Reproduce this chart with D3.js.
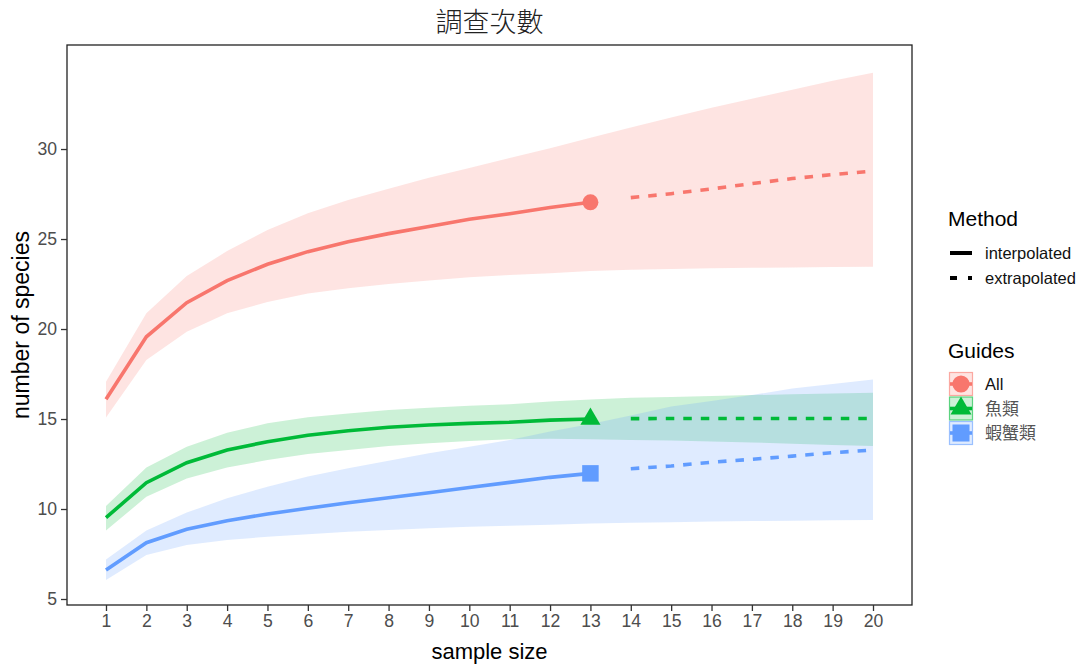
<!DOCTYPE html>
<html lang="zh-Hant">
<head>
<meta charset="UTF-8">
<title>調查次數</title>
<script src="https://d3js.org/d3.v7.min.js"></script>
<style>
  body { margin: 0; background: #fff; }
  svg text { font-family: "Liberation Sans", Arial, sans-serif; }
  .cjk { font-family: "Noto Sans CJK TC", "Noto Sans CJK SC", sans-serif; }
</style>
</head>
<body>
<svg id="chart" width="1088" height="666"></svg>
<script>
// sample sizes (1..13 interpolated, 14..20 extrapolated)
const sizes = [1, 2, 3, 4, 5, 6, 7, 8, 9, 10, 11, 12, 13, 14, 15, 16, 17, 18, 19, 20];
const observedSize = 13;

const guides = ["All", "魚類", "蝦蟹類"];
const colors = ["#F8766D", "#00BA38", "#619CFF"];
const shapes = ["circle", "triangle", "square"];

// All
const allEst = [16.1, 19.57, 21.46, 22.69, 23.6, 24.3, 24.85, 25.3, 25.7, 26.1, 26.4, 26.75, 27.04, 27.3, 27.52, 27.78, 28.08, 28.36, 28.58, 28.78];
const allLo  = [15.09, 18.28, 19.85, 20.87, 21.5, 21.98, 22.26, 22.5, 22.7, 22.87, 23.0, 23.1, 23.22, 23.3, 23.34, 23.37, 23.4, 23.42, 23.44, 23.46];
const allHi  = [17.07, 20.87, 22.94, 24.33, 25.5, 26.43, 27.17, 27.8, 28.4, 28.95, 29.5, 30.05, 30.62, 31.2, 31.75, 32.3, 32.8, 33.3, 33.8, 34.24];
// 魚類
const fishEst = [9.52, 11.46, 12.57, 13.28, 13.74, 14.1, 14.35, 14.54, 14.67, 14.76, 14.82, 14.94, 15.0, 15.02, 15.03, 15.03, 15.03, 15.03, 15.03, 15.03];
const fishLo  = [8.8, 10.68, 11.7, 12.3, 12.72, 13.06, 13.28, 13.5, 13.65, 13.78, 13.87, 13.9, 13.88, 13.83, 13.8, 13.75, 13.7, 13.63, 13.56, 13.5];
const fishHi  = [10.17, 12.3, 13.46, 14.24, 14.76, 15.1, 15.3, 15.5, 15.63, 15.74, 15.82, 15.98, 16.08, 16.18, 16.23, 16.28, 16.33, 16.37, 16.42, 16.46];
// 蝦蟹類
const crabEst = [6.61, 8.13, 8.87, 9.35, 9.72, 10.04, 10.35, 10.63, 10.9, 11.2, 11.48, 11.76, 11.98, 12.24, 12.39, 12.6, 12.76, 12.94, 13.13, 13.28];
const crabLo  = [6.06, 7.44, 8.0, 8.28, 8.46, 8.6, 8.74, 8.83, 8.93, 9.02, 9.07, 9.13, 9.2, 9.24, 9.27, 9.3, 9.33, 9.35, 9.37, 9.39];
const crabHi  = [7.2, 8.8, 9.8, 10.6, 11.24, 11.8, 12.26, 12.68, 13.1, 13.46, 13.83, 14.3, 14.72, 15.2, 15.7, 16.0, 16.33, 16.7, 16.94, 17.2];

const yTicks = [5, 10, 15, 20, 25, 30];
const methods = ["interpolated", "extrapolated"];

const series = [
  { name: guides[0], est: allEst, lo: allLo, hi: allHi },
  { name: guides[1], est: fishEst, lo: fishLo, hi: fishHi },
  { name: guides[2], est: crabEst, lo: crabLo, hi: crabHi }
];

const panel = { left: 67, right: 912, top: 45, bottom: 605 };
const svg = d3.select("#chart");

const x = d3.scaleLinear().domain([0.034, 20.966]).range([panel.left, panel.right]);
const y = d3.scaleLinear().domain([4.667, 35.78]).range([panel.bottom, panel.top]);

const rows = s => sizes.map((n, i) => ({ n, est: s.est[i], lo: s.lo[i], hi: s.hi[i] }));

// ribbons
const area = d3.area().x(d => x(d.n)).y0(d => y(d.lo)).y1(d => y(d.hi));
series.forEach((s, i) => {
  svg.append("path").attr("d", area(rows(s)))
    .attr("fill", colors[i]).attr("fill-opacity", 0.2);
});

// lines
const line = d3.line().x(d => x(d.n)).y(d => y(d.est));
series.forEach((s, i) => {
  const r = rows(s);
  svg.append("path").attr("d", line(r.filter(d => d.n <= observedSize)))
    .attr("fill", "none").attr("stroke", colors[i]).attr("stroke-width", 3.6);
  svg.append("path").attr("d", line(r.filter(d => d.n > observedSize)))
    .attr("fill", "none").attr("stroke", colors[i]).attr("stroke-width", 3.6)
    .attr("stroke-dasharray", "8.5,9");
});

// observed points
const symbolOf = {
  circle: d3.symbol().type(d3.symbolCircle).size(200),
  triangle: d3.symbol().type(d3.symbolTriangle).size(175),
  square: d3.symbol().type(d3.symbolSquare).size(272)
};
series.forEach((s, i) => {
  const k = sizes.indexOf(observedSize);
  svg.append("path").attr("d", symbolOf[shapes[i]]())
    .attr("transform", `translate(${x(observedSize)},${y(s.est[k])})`)
    .attr("fill", colors[i]);
});

// panel border
svg.append("rect")
  .attr("x", panel.left).attr("y", panel.top)
  .attr("width", panel.right - panel.left).attr("height", panel.bottom - panel.top)
  .attr("fill", "none").attr("stroke", "#222").attr("stroke-width", 1.3);

// axes
const xAxis = svg.append("g").attr("transform", `translate(0,${panel.bottom})`)
  .call(d3.axisBottom(x).tickValues(sizes).tickFormat(d3.format("d")).tickSize(6).tickPadding(4));
const yAxis = svg.append("g").attr("transform", `translate(${panel.left},0)`)
  .call(d3.axisLeft(y).tickValues(yTicks).tickSize(6).tickPadding(4));
[xAxis, yAxis].forEach(g => {
  g.select(".domain").remove();
  g.selectAll(".tick line").attr("stroke", "#333").attr("stroke-width", 1.3);
  g.selectAll(".tick text").attr("fill", "#4D4D4D")
    .style("font-size", "17.6px").style("font-family", "Liberation Sans, Arial, sans-serif");
});

// titles
svg.append("text").attr("class", "cjk")
  .attr("x", (panel.left + panel.right) / 2).attr("y", 32)
  .attr("text-anchor", "middle").attr("fill", "#222")
  .style("font-size", "27px").style("font-weight", 300)
  .text("調查次數");

svg.append("text")
  .attr("x", (panel.left + panel.right) / 2).attr("y", 659)
  .attr("text-anchor", "middle").attr("fill", "#000")
  .style("font-size", "22px")
  .text("sample size");

svg.append("text")
  .attr("transform", `translate(29,${(panel.top + panel.bottom) / 2}) rotate(-90)`)
  .attr("text-anchor", "middle").attr("fill", "#000")
  .style("font-size", "23px")
  .text("number of species");

// legend: Method
const lg = svg.append("g");
lg.append("text").attr("x", 948).attr("y", 226).style("font-size", "21px").text("Method");
methods.forEach((m, i) => {
  const cy = 253 + i * 25;
  lg.append("line").attr("x1", 950).attr("x2", 972).attr("y1", cy).attr("y2", cy)
    .attr("stroke", "#000").attr("stroke-width", 4)
    .attr("stroke-dasharray", i === 0 ? null : "7,11");
  lg.append("text").attr("x", 985).attr("y", cy + 6)
    .style("font-size", "16.5px").attr("fill", "#111").text(m);
});

// legend: Guides
lg.append("text").attr("x", 948).attr("y", 358).style("font-size", "21px").text("Guides");
const keySymbol = {
  circle: d3.symbol().type(d3.symbolCircle).size(230),
  triangle: d3.symbol().type(d3.symbolTriangle).size(190),
  square: d3.symbol().type(d3.symbolSquare).size(290)
};
guides.forEach((g, i) => {
  const cy = 384 + i * 24.5;
  lg.append("rect").attr("x", 949.5).attr("y", cy - 11.5).attr("width", 23).attr("height", 23)
    .attr("fill", colors[i]).attr("fill-opacity", 0.2)
    .attr("stroke", colors[i]).attr("stroke-opacity", 0.6).attr("stroke-width", 1.2);
  lg.append("line").attr("x1", 950).attr("x2", 972).attr("y1", cy).attr("y2", cy)
    .attr("stroke", colors[i]).attr("stroke-width", 3.6);
  lg.append("path").attr("d", keySymbol[shapes[i]]())
    .attr("transform", `translate(961,${cy})`).attr("fill", colors[i]);
  lg.append("text").attr("x", 985).attr("y", cy + 6)
    .attr("class", i === 0 ? null : "cjk")
    .attr("fill", i === 0 ? "#111" : "#555")
    .style("font-size", i === 0 ? "16.5px" : "17px")
    .text(g);
});
</script>
</body>
</html>
